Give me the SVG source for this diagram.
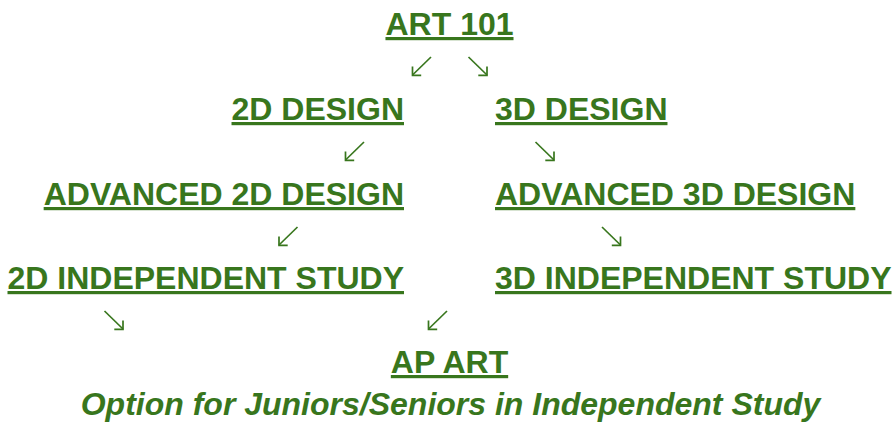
<svg xmlns="http://www.w3.org/2000/svg" xmlns:xlink="http://www.w3.org/1999/xlink" width="893" height="422" viewBox="0 0 893 422">
<style>
.t{font-family:"Liberation Sans",Arial,sans-serif;font-weight:bold;font-size:32px;fill:#38761d;text-decoration:underline;}
.i{font-family:"Liberation Sans",Arial,sans-serif;font-weight:bold;font-style:italic;font-size:32px;fill:#38761d;}
.a{fill:none;stroke:#38761d;stroke-width:1.7;stroke-linecap:butt;stroke-linejoin:miter;}
</style>
<defs>
<g id="se"><path class="a" d="M0,0 L18.5,18"/><path class="a" d="M18.5,9.5 L18.5,18.3 L9.8,18.3"/></g>
<g id="sw"><path class="a" d="M19,0 L0.5,18"/><path class="a" d="M0.5,9.5 L0.5,18.3 L9.2,18.3"/></g>
</defs>
<rect width="893" height="422" fill="#ffffff"/>
<g id="connectors">
<use xlink:href="#sw" x="412" y="57"/>
<use xlink:href="#se" x="468.5" y="57"/>
<use xlink:href="#sw" x="345" y="142"/>
<use xlink:href="#se" x="535.5" y="142"/>
<use xlink:href="#sw" x="278.5" y="227"/>
<use xlink:href="#se" x="602" y="227"/>
<use xlink:href="#se" x="104.5" y="311"/>
<use xlink:href="#sw" x="428" y="311"/>
</g>
<g id="art101"><text class="t" x="449.5" y="35" text-anchor="middle">ART 101</text></g>
<g id="design2d"><text class="t" x="404" y="120" text-anchor="end">2D DESIGN</text></g>
<g id="design3d"><text class="t" x="495" y="120">3D DESIGN</text></g>
<g id="adv2d"><text class="t" x="404" y="205" text-anchor="end">ADVANCED 2D DESIGN</text></g>
<g id="adv3d"><text class="t" x="495" y="205">ADVANCED 3D DESIGN</text></g>
<g id="ind2d"><text class="t" x="404" y="289" text-anchor="end">2D INDEPENDENT STUDY</text></g>
<g id="ind3d"><text class="t" x="495" y="289">3D INDEPENDENT STUDY</text></g>
<g id="apart">
<text class="t" x="449.5" y="373" text-anchor="middle">AP ART</text>
<text class="i" x="450.5" y="415" text-anchor="middle">Option for Juniors/Seniors in Independent Study</text>
</g>
</svg>
